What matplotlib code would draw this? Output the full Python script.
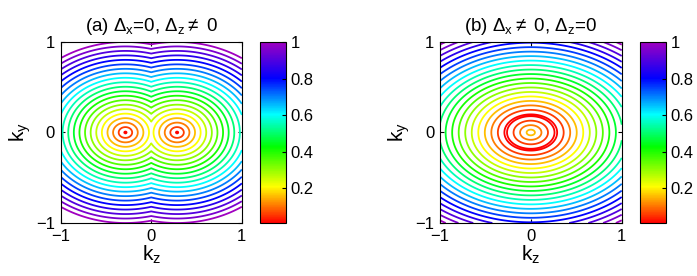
import numpy as np
import matplotlib
matplotlib.use("Agg")
import matplotlib.pyplot as plt
from matplotlib.colors import LinearSegmentedColormap, Normalize
from matplotlib.cm import ScalarMappable
from matplotlib.ticker import FuncFormatter

plt.rcParams["font.family"] = ["Liberation Sans", "DejaVu Sans"]
plt.rcParams["mathtext.fontset"] = "custom"
plt.rcParams["mathtext.rm"] = "Liberation Sans"
plt.rcParams["mathtext.it"] = "Liberation Sans"
plt.rcParams["mathtext.default"] = "regular"

# values
titles = [r"(a) $\Delta_x$=0, $\Delta_z$$\neq$ 0", r"(b) $\Delta_x$$\neq$ 0, $\Delta_z$=0"]
node_kz = 0.285        # (a) position of the two minima on the kz axis
ring_ky = 0.19         # (b) ky radius of the zero ring
kz_stretch = [1.25, 1.45]
levels = np.linspace(0.01, 1.0, 21)
cbar_ticks = [0.2, 0.4, 0.6, 0.8, 1.0]
axis_ticks = [-1, 0, 1]
axis_labels = ["\u22121", "0", "1"]

colors = ["#ff0000", "#ff8000", "#ffff00", "#00ff00", "#00ffff", "#0000ff", "#a000c0"]
stops = [0.0, 0.1, 0.2, 0.42, 0.6, 0.8, 1.0]
cmap = LinearSegmentedColormap.from_list("mhsv", list(zip(stops, colors)))
norm = Normalize(0.01, 1.0)

kz = np.linspace(-1, 1, 601)
ky = np.linspace(-1, 1, 601)
KZ, KY = np.meshgrid(kz, ky)
E_a = np.sqrt(KY**2 + ((np.abs(KZ) - node_kz) / kz_stretch[0])**2)
E_b = np.abs(np.sqrt((KZ / kz_stretch[1])**2 + KY**2) - ring_ky)
fields = [E_a, E_b]

fig = plt.figure(figsize=(6.97, 2.76), dpi=100)
ax_pos = [[0.087, 0.192, 0.260, 0.656], [0.631, 0.192, 0.261, 0.656]]
cb_pos = [[0.373, 0.192, 0.037, 0.656], [0.918, 0.192, 0.037, 0.656]]

for i in range(2):
    ax = fig.add_axes(ax_pos[i])
    ax.contour(KZ, KY, fields[i], levels=levels, cmap=cmap, norm=norm, linewidths=1.3)
    ax.set_xlim(-1, 1)
    ax.set_ylim(-1, 1)
    ax.set_xticks(axis_ticks)
    ax.set_xticklabels(axis_labels)
    ax.set_yticks(axis_ticks)
    ax.set_yticklabels(axis_labels)
    ax.tick_params(direction="in", top=True, right=True, labelsize=12, length=3, pad=4)
    ax.set_xlabel(r"$k_z$", fontsize=15, labelpad=0)
    ax.set_ylabel(r"$k_y$", fontsize=15, labelpad=2)
    ax.set_title(titles[i], fontsize=13.5, pad=8)

    cax = fig.add_axes(cb_pos[i])
    cb = fig.colorbar(ScalarMappable(norm=norm, cmap=cmap), cax=cax, ticks=cbar_ticks,
                      format=FuncFormatter(lambda v, p: f"{v:g}"))
    cax.tick_params(direction="in", labelsize=12, length=3)
    cb.outline.set_linewidth(0.8)

fig.savefig("out.png", dpi=100)
